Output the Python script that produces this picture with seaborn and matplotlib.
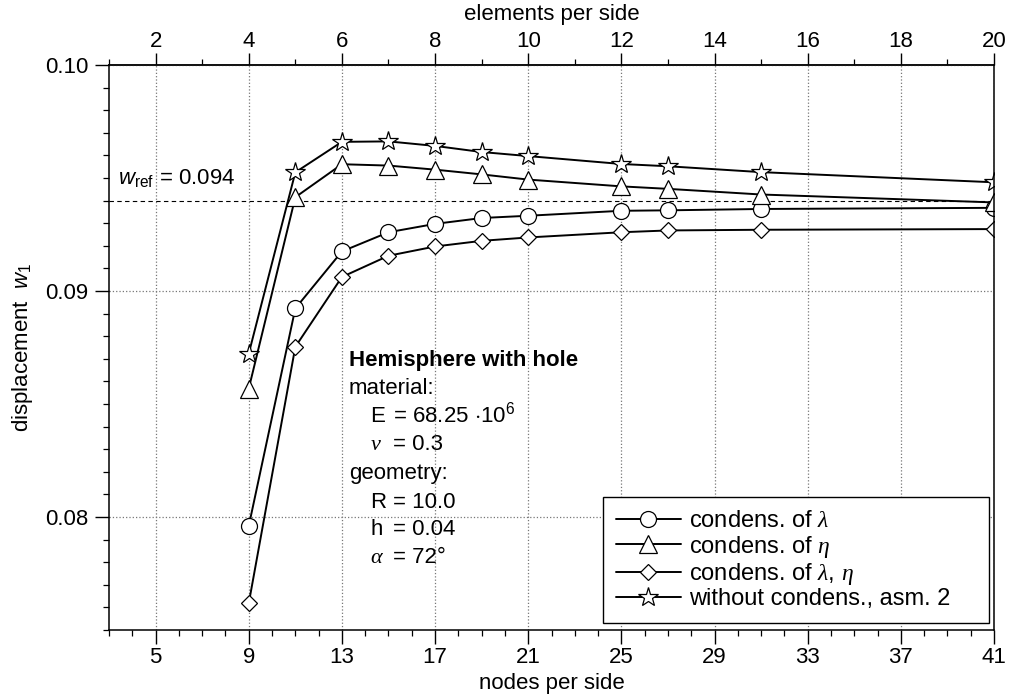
# Hemisphere with hole - convergence of displacement w1
import matplotlib
matplotlib.use('Agg')
import matplotlib.pyplot as plt
from matplotlib.ticker import MultipleLocator, FixedLocator
import seaborn as sns

# data
elements = [4, 5, 6, 7, 8, 9, 10, 12, 13, 15, 20]
nodes = [2 * e + 1 for e in elements]

w_lambda = [0.07960, 0.08923, 0.09175, 0.09260, 0.09297, 0.09323, 0.09333,
            0.09355, 0.09357, 0.09363, 0.09368]
w_eta = [0.08568, 0.09415, 0.09561, 0.09555, 0.09537, 0.09516, 0.09493,
         0.09463, 0.09452, 0.09427, 0.09392]
w_lambda_eta = [0.07618, 0.08753, 0.09062, 0.09156, 0.09197, 0.09222, 0.09237,
                0.09260, 0.09268, 0.09271, 0.09274]
w_no_cond = [0.08723, 0.09525, 0.09660, 0.09662, 0.09642, 0.09615, 0.09597,
             0.09562, 0.09552, 0.09526, 0.09481]
w_ref = 0.094

labels = [r'condens. of $\mathcal{\lambda}$',
          r'condens. of $\mathcal{\eta}$',
          r'condens. of $\mathcal{\lambda}$, $\mathcal{\eta}$',
          'without condens., asm. 2']

node_ticks = [5, 9, 13, 17, 21, 25, 29, 33, 37, 41]
element_ticks = [2, 4, 6, 8, 10, 12, 14, 16, 18, 20]

sns.set_theme(style='ticks')
plt.rcParams['font.family'] = ['Liberation Sans', 'DejaVu Sans']
plt.rcParams['mathtext.fontset'] = 'custom'
plt.rcParams['mathtext.rm'] = 'Liberation Sans'
plt.rcParams['mathtext.it'] = 'Liberation Sans:italic'
plt.rcParams['mathtext.cal'] = 'Liberation Serif:italic'
plt.rcParams['text.color'] = 'black'
plt.rcParams['axes.labelcolor'] = 'black'

fig = plt.figure(figsize=(10.14, 6.96), dpi=100)
ax = fig.add_axes([0.1075, 0.0948, 0.8728, 0.8118])

# reference line
ax.axhline(w_ref, color='black', linestyle=(0, (4, 3)), linewidth=0.8, zorder=1)

handles = []
styles = [('o', 11.5), ('^', 12.5), ('D', 8.5), ('*', 15)]
for vals, (mk, ms) in zip([w_lambda, w_eta, w_lambda_eta, w_no_cond], styles):
    sns.lineplot(x=nodes, y=vals, marker=mk, markersize=ms, color='black',
                 markerfacecolor='white', markeredgecolor='black',
                 markeredgewidth=0.9, linewidth=1.4, ax=ax, legend=False)
    handles.append(ax.lines[-1])

ax.set_xlim(3, 41)
ax.set_ylim(0.075, 0.10)
ax.xaxis.set_major_locator(FixedLocator(node_ticks))
ax.xaxis.set_minor_locator(MultipleLocator(1))
ax.yaxis.set_major_locator(FixedLocator([0.08, 0.09, 0.10]))
ax.yaxis.set_minor_locator(MultipleLocator(0.001))
ax.set_yticklabels(['0.08', '0.09', '0.10'])

ax.grid(True, which='major', color='#777777', linestyle=':', linewidth=0.9)
for s in ax.spines.values():
    s.set_color('black')
    s.set_linewidth(1.1)

ax.tick_params(which='major', direction='out', length=10, width=1.0,
               labelsize=16, colors='black', right=False)
ax.tick_params(which='minor', direction='out', length=4.5, width=0.9,
               colors='black', right=False)
ax.tick_params(axis='x', which='major', pad=2)
ax.tick_params(axis='y', which='major', pad=5)

ax.set_xlabel('nodes per side', fontsize=16, labelpad=4)
ax.set_ylabel(r'displacement  $w_1$', fontsize=16, labelpad=7)

# top axis: elements per side
top = ax.secondary_xaxis('top', functions=(lambda n: (n - 1) / 2, lambda e: 2 * e + 1))
top.xaxis.set_major_locator(FixedLocator(element_ticks))
top.xaxis.set_minor_locator(MultipleLocator(1))
top.tick_params(which='major', direction='out', length=9, width=1.0,
                labelsize=16, pad=0.5, colors='black')
top.tick_params(which='minor', direction='out', length=4.5, width=0.9, colors='black')
top.set_xlabel('elements per side', fontsize=16, labelpad=8)
top.spines['top'].set_linewidth(1.1)

# reference value label
ax.text(0.010, 0.0947, r'$w_{\mathrm{ref}}$ = 0.094', transform=ax.get_yaxis_transform(),
        fontsize=16, va='baseline', ha='left')

# problem description
ax.text(0.271, 0.467, 'Hemisphere with hole', transform=ax.transAxes,
        fontsize=16, fontweight='bold', va='baseline')
ax.text(0.271, 0.418, 'material:', transform=ax.transAxes, fontsize=16, va='baseline')
ax.text(0.271, 0.267, 'geometry:', transform=ax.transAxes, fontsize=16, va='baseline')
params = [('E', r'= 68.25 $\cdot$10$^{6}$', 0.368),
          (r'$\mathcal{\nu}$', '= 0.3', 0.319),
          ('R', '= 10.0', 0.216),
          ('h', '= 0.04', 0.168),
          (r'$\mathcal{\alpha}$', '= 72°', 0.119)]
for sym, val, yy in params:
    ax.text(0.295, yy, sym, transform=ax.transAxes, fontsize=16, va='baseline')
    ax.text(0.321, yy, val, transform=ax.transAxes, fontsize=16, va='baseline')

leg = ax.legend(handles, labels, loc='lower left', mode='expand',
                bbox_to_anchor=(0.558, 0.0124, 0.436, 0.223),
                borderaxespad=0, fontsize=17, handlelength=2.75, handletextpad=0.34,
                labelspacing=0.05, borderpad=0.55, fancybox=False, framealpha=1,
                edgecolor='black')
leg.get_frame().set_linewidth(1.0)
for t in leg.get_texts():
    t.set_color('black')

plt.savefig('out.png', dpi=100)
